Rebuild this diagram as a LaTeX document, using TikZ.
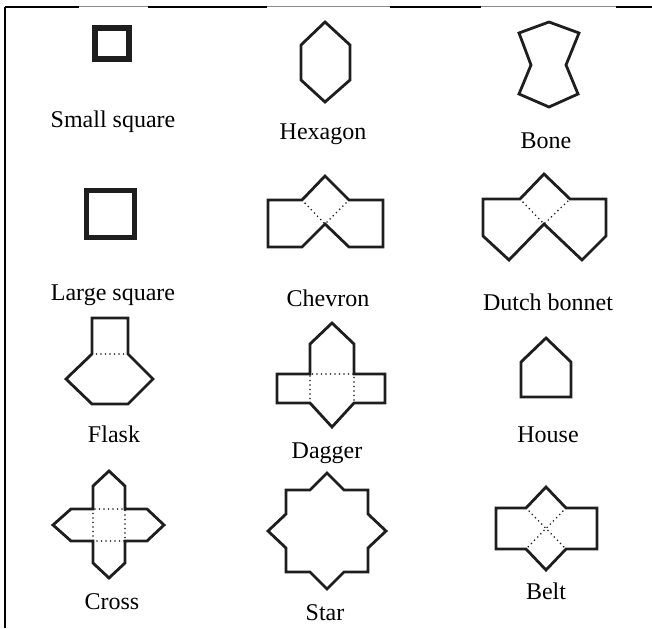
\documentclass[tikz,border=0pt]{standalone}
\usepackage{fontspec}
\setmainfont{Liberation Serif}
\definecolor{ink}{HTML}{1E1E1E}
\definecolor{rulegray}{HTML}{8C8C8C}

\begin{document}
\begin{tikzpicture}[
  x=1pt, y=-1pt,
  outline/.style={draw=ink, line width=2.8pt, line join=miter},
  fold/.style={draw=ink, line width=1.8pt, line cap=round, dash pattern=on 0pt off 4.5pt},
  lbl/.style={font=\fontsize{24}{28}\selectfont, text=black, anchor=base, inner sep=0pt},
  thickrule/.style={draw=black, line width=2.6pt},
  thinrule/.style={draw=rulegray, line width=1pt},
]
\useasboundingbox (0,0) rectangle (652,628);

% Frame
\draw[thickrule] (5,628) -- (5,7);
\draw[thickrule] (5,7) -- (79,7);
\draw[thinrule]  (79,7) -- (148,7);
\draw[thickrule] (148,7) -- (267,7);
\draw[thinrule]  (267,7) -- (390,7);
\draw[thickrule] (390,7) -- (481,7);
\draw[thinrule]  (481,7) -- (616,7);
\draw[thickrule] (616,7) -- (652,7);

% Row 1
\draw[outline, line width=6pt] (95,28) rectangle (129,59);
\node[lbl] (smallsq) at (113,128) {Small square};

\draw[outline] (325,22) -- (350,45) -- (350,80) -- (325,102) -- (301,80) -- (301,45) -- cycle;
\node[lbl] (hexagon) at (323,140) {Hexagon};

\draw[outline] (549,22) -- (579,33) -- (566,65) -- (578,94) -- (549,107)
  -- (519,94) -- (531,65) -- (519,33) -- cycle;
\node[lbl] (bone) at (546,149) {Bone};

% Row 2
\draw[outline, line width=5pt] (86,191) rectangle (134,237);
\node[lbl] (largesq) at (113,300) {Large square};

\draw[outline] (268,200) -- (302,200) -- (325,176) -- (349,200) -- (383,200)
  -- (383,247) -- (349,247) -- (325,224) -- (302,247) -- (268,247) -- cycle;
\draw[fold] (302,200) -- (325,224) -- (349,200);
\node[lbl] (chevron) at (328,306) {Chevron};

\draw[outline] (483,199) -- (520,199) -- (544,174) -- (570,199) -- (606,199)
  -- (606,236) -- (582,260) -- (544,224) -- (509,260) -- (483,236) -- cycle;
\draw[fold] (520,199) -- (544,224) -- (570,199);
\node[lbl] (bonnet) at (548,310) {Dutch bonnet};

% Row 3
\draw[outline] (92,318) -- (128,318) -- (128,354) -- (153,379) -- (128,404)
  -- (92,404) -- (66,379) -- (92,354) -- cycle;
\draw[fold] (92,354) -- (128,354);
\node[lbl] (flask) at (114,442) {Flask};

\draw[outline] (332,323) -- (354,344) -- (354,374) -- (385,374) -- (385,403)
  -- (354,403) -- (332,427) -- (310,403) -- (277,403) -- (277,374)
  -- (310,374) -- (310,344) -- cycle;
\draw[fold] (310,403) -- (310,374) -- (354,374) -- (354,403);
\node[lbl] (dagger) at (327,458) {Dagger};

\draw[outline] (546,338) -- (571,362) -- (571,397) -- (521,397) -- (521,362) -- cycle;
\node[lbl] (house) at (548,442) {House};

% Row 4
\draw[outline] (109,471) -- (125,486) -- (125,509) -- (147,509) -- (164,525)
  -- (147,541) -- (125,541) -- (125,563) -- (109,578) -- (93,563)
  -- (93,541) -- (71,541) -- (53,525) -- (71,509) -- (93,509)
  -- (93,486) -- cycle;
\draw[fold] (93,509) rectangle (125,541);
\node[lbl] (cross) at (112,609) {Cross};

\draw[outline] (327,473) -- (344,490) -- (368,490) -- (368,514) -- (386,531)
  -- (368,548) -- (368,572) -- (344,572) -- (327,589) -- (310,572)
  -- (286,572) -- (286,548) -- (268,531) -- (286,514) -- (286,490)
  -- (310,490) -- cycle;
\node[lbl] (star) at (325,620) {Star};

\draw[outline] (496,508) -- (526,508) -- (546,487) -- (566,508) -- (597,508)
  -- (597,549) -- (566,549) -- (546,570) -- (526,549) -- (496,549) -- cycle;
\draw[fold] (526,508) -- (566,549);
\draw[fold] (566,508) -- (526,549);
\node[lbl] (belt) at (546,599) {Belt};

\end{tikzpicture}
\end{document}
